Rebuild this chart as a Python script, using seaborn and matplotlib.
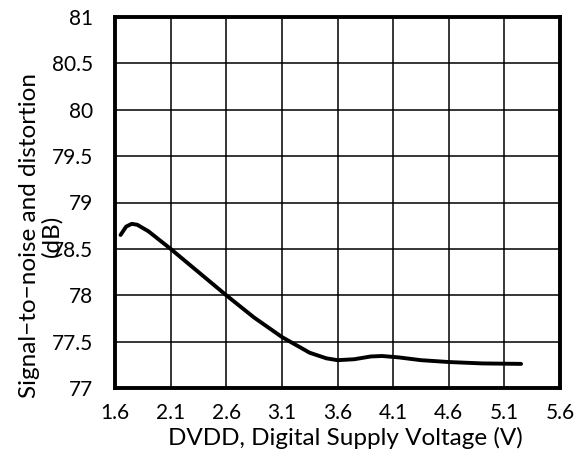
import matplotlib
matplotlib.use('Agg')
import matplotlib.pyplot as plt
import seaborn as sns
import pandas as pd

voltage = [1.65, 1.70, 1.75, 1.80, 1.90, 2.10, 2.35, 2.60, 2.85, 3.10, 3.35, 3.50, 3.60, 3.75, 3.90, 4.00, 4.15, 4.35, 4.60, 4.90, 5.25]
sinad = [78.65, 78.74, 78.77, 78.76, 78.69, 78.50, 78.25, 78.00, 77.76, 77.55, 77.38, 77.32, 77.30, 77.31, 77.34, 77.345, 77.33, 77.30, 77.28, 77.265, 77.26]

x_ticks = [1.6, 2.1, 2.6, 3.1, 3.6, 4.1, 4.6, 5.1, 5.6]
x_tick_labels = ['1.6', '2.1', '2.6', '3.1', '3.6', '4.1', '4.6', '5.1', '5.6']
y_ticks = [77, 77.5, 78, 78.5, 79, 79.5, 80, 80.5, 81]
y_tick_labels = ['77', '77.5', '78', '78.5', '79', '79.5', '80', '80.5', '81']

x_label = 'DVDD, Digital Supply Voltage (V)'
y_label = 'Signal\u2212to\u2212noise and distortion\n(dB)'

sns.set_theme(style='white')
plt.rcParams['font.family'] = ['Lato', 'DejaVu Sans']

fig = plt.figure(figsize=(5.76, 4.55), dpi=100)
ax = fig.add_axes([115 / 576, 1 - 388 / 455, 445 / 576, 371 / 455])

df = pd.DataFrame({'V': voltage, 'S': sinad})
sns.lineplot(data=df, x='V', y='S', ax=ax, color='black', linewidth=2.8, zorder=3)

ax.set_xlim(1.6, 5.6)
ax.set_ylim(77, 81)
ax.set_xticks(x_ticks, x_tick_labels)
ax.set_yticks(y_ticks, y_tick_labels)
ax.grid(True, color='black', linewidth=1.1)
ax.set_axisbelow(True)
for s in ax.spines.values():
    s.set_visible(True)
    s.set_color('black')
    s.set_linewidth(2.8)
ax.tick_params(length=0, labelsize=15, colors='black')
ax.tick_params(axis='y', pad=16)
ax.tick_params(axis='x', pad=11)

ax.set_xlabel(x_label, fontsize=17.5, color='black')
ax.xaxis.set_label_coords(0.517, -0.105)
ax.set_ylabel(y_label, fontsize=17.5, color='black', linespacing=1.05)
ax.yaxis.set_label_coords(-0.119, 0.41)

fig.savefig('out.png', dpi=100)
